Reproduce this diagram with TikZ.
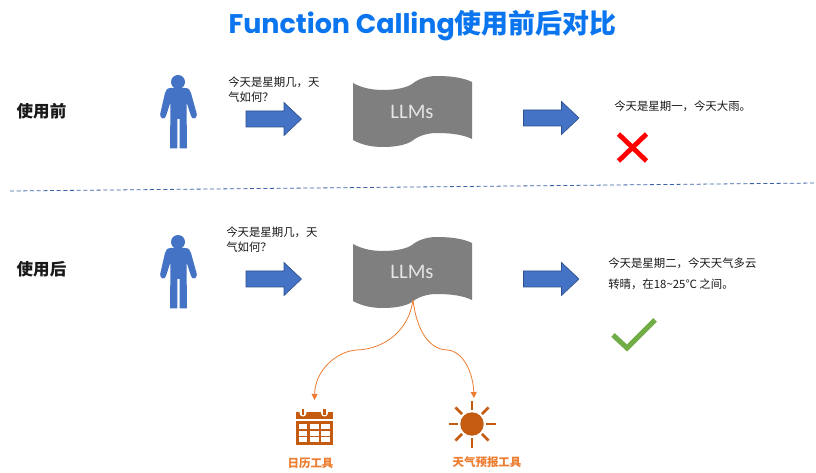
\documentclass[tikz,border=0pt]{standalone}
\usepackage{fontspec}
\usetikzlibrary{arrows.meta}
\setmainfont{Noto Sans CJK SC}
\newfontfamily\popfont{Poppins}
\newfontfamily\carfont{Carlito}
\definecolor{titleblue}{HTML}{0A75EE}
\definecolor{armfill}{HTML}{4472C4}
\definecolor{armedge}{HTML}{2F528F}
\definecolor{flaggray}{HTML}{7F7F7F}
\definecolor{toolorange}{HTML}{ED7D31}
\definecolor{tooldark}{HTML}{C55A11}
\definecolor{okgreen}{HTML}{70AD47}
\tikzset{
  x=0.75pt,y=-0.75pt,
  msg/.style={anchor=west,inner sep=0pt,font=\fontsize{8.55}{11.2}\selectfont,text=black!90},
  rowlabel/.style={anchor=center,inner sep=0pt,font=\fontsize{12.4}{14}\selectfont\bfseries,text=black!90},
  toollabel/.style={anchor=center,inner sep=0pt,font=\fontsize{8.6}{10}\selectfont\bfseries,text=toolorange},
  llmlabel/.style={anchor=center,inner sep=0pt,font=\carfont\fontsize{15.5}{17}\selectfont,text=white!90!black},
  blockarrow/.style={fill=armfill,draw=armedge,line width=0.5pt},
  person/.style={fill=armfill,draw=none},
  flag/.style={fill=flaggray,draw=none},
  toolcurve/.style={draw=toolorange,line width=0.6pt,-{Triangle[length=4.5pt,width=4.5pt]}},
}
\newcommand{\personshape}[1]{%
  \begin{scope}[yshift=#1]
  \fill[person] (178,82) circle (7);
  \fill[person] (171,88) .. controls (167,88) and (166,90) .. (165,93)
    -- (160.2,114) .. controls (159.5,119) and (165,120) .. (166,116)
    -- (170.5,102) -- (170,148.5) -- (177.3,148.5) -- (177.3,119) -- (179.5,119)
    -- (179.5,148.5) -- (187,148.5) -- (186.5,102) -- (191,116)
    .. controls (192,120) and (197.5,119) .. (196.8,114)
    -- (191,93) .. controls (190,90) and (189,88) .. (185,88) -- cycle;
  \end{scope}}
\newcommand{\flagshape}[1]{%
  \begin{scope}[yshift=#1]
  \fill[flag] (353,83) .. controls (362,88) and (372,90) .. (383,90)
    .. controls (395,90) and (406,88) .. (412,84)
    .. controls (418,79) and (427,76) .. (437,76)
    .. controls (452,76) and (464,78) .. (472,82)
    -- (472,139) .. controls (464,135) and (452,133) .. (437,133)
    .. controls (427,133) and (418,136) .. (412,141)
    .. controls (406,145) and (395,147) .. (383,147)
    .. controls (372,147) and (362,145) .. (353,140) -- cycle;
  \end{scope}}
\newcommand{\blockarrowshape}[2]{%
  \draw[blockarrow] (#1,#2-8) -- (#1+38,#2-8) -- (#1+38,#2-16.5) -- (#1+55.5,#2)
    -- (#1+38,#2+16.5) -- (#1+38,#2+8) -- (#1,#2+8) -- cycle;}
\begin{document}
\begin{tikzpicture}
\useasboundingbox (0,0) rectangle (816,473);
\fill[white] (0,0) rectangle (816,473);

% title
\node[anchor=center,inner sep=0pt,text=titleblue,font=\fontsize{20.2}{24}\selectfont\bfseries] (title) at (422.5,26)
  {{\popfont Function Calling}使用前后对比};

% row labels
\node[rowlabel] (before) at (41.5,111) {使用前};
\node[rowlabel] (after) at (41.5,269) {使用后};

% divider
\coordinate (divl) at (10,191);
\coordinate (divr) at (816,183);
\draw[armfill!85!black,line width=0.6pt,dash pattern=on 3pt off 2pt] (divl) -- (divr);

% upper row
\personshape{0}
\node[msg,align=left,text width=100] (q1) at (228,90) {今天是星期几，天\\气如何？};
\blockarrowshape{246}{119}
\flagshape{0}
\node[llmlabel] (llm1) at (412,112) {LLMs};
\blockarrowshape{523.5}{118}
\node[msg] (a1) at (614,106.5) {今天是星期一，今天大雨。};
\coordinate (x1) at (618.5,134);
\coordinate (x2) at (646.5,161);
\coordinate (x3) at (646.5,134);
\coordinate (x4) at (618.5,161);
\draw[red,line width=3.6pt] (x1) -- (x2) (x3) -- (x4);

% lower row
\personshape{-120}
\node[msg,align=left,text width=100] (q2) at (226,240) {今天是星期几，天\\气如何？};
\blockarrowshape{246}{279}
\flagshape{-120.75}
\node[llmlabel] (llm2) at (412,272) {LLMs};
\blockarrowshape{523.5}{279}
\node[msg] (a2a) at (608,263) {今天是星期二，今天天气多云};
\node[msg] (a2b) at (608,284) {转晴，在18\char`\~25℃ 之间。};
\coordinate (c1) at (613,335);
\coordinate (c2) at (627,348);
\coordinate (c3) at (655,320);
\draw[okgreen,line width=3.8pt] (c1) -- (c2) -- (c3);

% connectors
\coordinate (src) at (413,300);
\coordinate (calendar) at (314.5,400);
\coordinate (sun) at (474,398);
\draw[toolcurve] (src) .. controls (409,330) and (385,349) .. (357,350)
  .. controls (337,351) and (315,370) .. (calendar);
\draw[toolcurve] (src) .. controls (416,325) and (426,349) .. (447,350)
  .. controls (463,351) and (473,372) .. (sun);

% calendar icon
\fill[tooldark] (296,412) rectangle (332.5,444.5);
\fill[white] (296,419.3) rectangle (332.5,420.6);
\foreach \cx/\cw in {298.5/8.5,309.5/9.5,321/8.5} \foreach \cy/\ch in {424/5,431/4.5,437/5}
  \fill[white] (\cx,\cy) rectangle +(\cw,\ch);
\foreach \rx in {303,324.5}{
  \fill[white] (\rx-3.5,409) rectangle (\rx+3.5,412)
     (\rx,413) circle (3.5);
  \fill[tooldark] (\rx-1.2,408.5) rectangle (\rx+1.2,414.5);
}

% sun icon
\fill[tooldark] (472,424) circle (11.7);
\foreach \a in {0,45,...,315}
  \draw[tooldark,line width=1.9pt] (472,424) ++(\a:14) -- ++(\a:9.5);

% tool labels
\node[toollabel] (l1) at (310.5,463) {日历工具};
\node[toollabel] (l2) at (487,462) {天气预报工具};
\end{tikzpicture}
\end{document}
